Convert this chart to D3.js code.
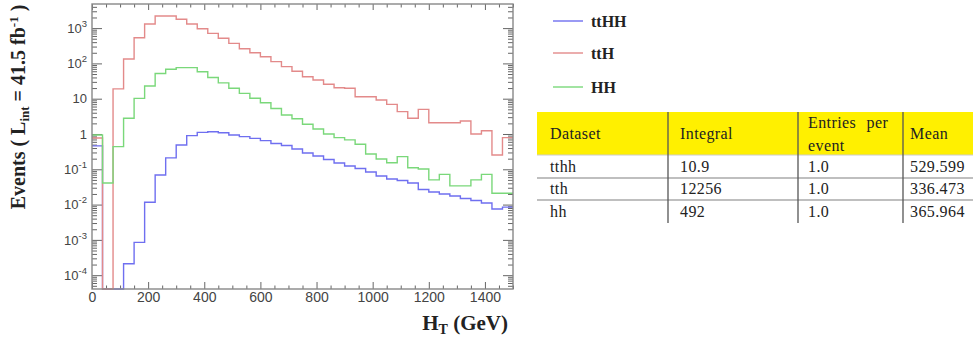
<!DOCTYPE html>
<html><head><meta charset="utf-8">
<script src="https://cdn.jsdelivr.net/npm/d3@7"></script>
<style>body{margin:0;background:#fff}svg{display:block}.tbl{font-family:'Liberation Serif','Times New Roman',serif;font-size:16px;fill:#222;letter-spacing:0.4px}</style>
</head><body>
<svg id="c" width="973" height="341"></svg>
<script>
// ---- data ----
const binEdges = [0,37.5,75,112.5,150,187.5,225,262.5,300,337.5,375,412.5,450,487.5,525,562.5,600,637.5,675,712.5,750,
  787.5,825,862.5,900,937.5,975,1012.5,1050,1087.5,1125,1162.5,1200,1237.5,1275,1312.5,1350,1387.5,1425,1462.5,1500];
const ttHH = [0.46,0,0,2.1e-4,8.5e-4,0.0116,0.069,0.21,0.49,0.9,1.11,1.16,1.09,0.94,0.84,0.75,0.65,0.54,0.47,0.376,
  0.29,0.238,0.19,0.151,0.124,0.105,0.084,0.0646,0.0531,0.0482,0.041,0.0268,0.0228,0.02,0.0175,0.0149,0.0131,0.0111,0.0075,0.0085];
const ttH = [0.77,0,19,133,535,1306,2200,2200,1780,1306,960,710,516,370,260,200,155,112,81,60,
  42,34,25.6,20.5,19.7,11.4,11.4,9.2,6.9,4.3,2.8,5.0,2.09,2.09,2.09,2.33,1.0,1.24,0.254,0.79];
const HH = [0.94,0.041,0.44,2.8,10.2,22.9,52,68,76,76,58,40,28,19.7,14.2,10.3,7.7,5.3,3.45,2.7,
  1.88,1.38,1.0,0.79,0.68,0.51,0.27,0.195,0.154,0.228,0.111,0.102,0.05,0.072,0.034,0.034,0.05,0.072,0.021,0.021];
const seriesNames = ["ttHH","ttH","HH"];
const seriesColors = ["#6f6ff0","#e38a8a","#7ad87a"];
const xTickValues = [0,200,400,600,800,1000,1200,1400];
const yTickValues = [1e-4,1e-3,1e-2,1e-1,1,10,100,1000];
const yTickBase = ["10","10","10","10","1","10","10","10"];
const yTickExp = ["-4","-3","-2","-1","","","2","3"];
const tableHeader = ["Dataset","Integral","Entries per|event","Mean"];
const tableDataset = ["tthh","tth","hh"];
const tableIntegral = ["10.9","12256","492"];
const tableEntries = ["1.0","1.0","1.0"];
const tableMean = ["529.599","336.473","365.964"];

// ---- layout ----
const svg = d3.select("#c");
svg.append("rect").attr("width",973).attr("height",341).attr("fill","#fff");
const L=92, R=513, T=4, B=289;
const x = d3.scaleLinear().domain([0,1500]).range([L,R]);
const yMin = 4.06e-5, yMax = 4820;
const y = d3.scaleLog().domain([yMin,yMax]).range([B,T]).clamp(true);
const tickCol = "#666";

const yMinor = [];
for (let d=-5; d<=3; d++) for (let k=2;k<=9;k++){ const v=k*Math.pow(10,d); if(v>=yMin && v<=yMax) yMinor.push(v); }
const xMinor = d3.range(0,1501,50).filter(v=>v%200!==0);

function styleAxis(g){ g.select(".domain").remove(); g.selectAll("line").attr("stroke",tickCol).attr("stroke-width",1); }

svg.append("g").attr("transform",`translate(${L},0)`).call(d3.axisLeft(y).tickValues(yMinor).tickSize(-5).tickFormat("")).call(styleAxis);
const yl = svg.append("g").attr("transform",`translate(${L},0)`)
  .call(d3.axisLeft(y).tickValues(yTickValues).tickSize(-10).tickPadding(5).tickFormat((d,i)=>i)).call(styleAxis);
yl.selectAll("text").each(function(d,i){
  const t = d3.select(this); t.text(null)
    .attr("font-family","'Liberation Sans',Arial,sans-serif").attr("font-size",13).attr("fill","#444");
  t.append("tspan").text(yTickBase[i]);
  if (yTickExp[i]) t.append("tspan").attr("dy",-6).attr("font-size",9.5).text(yTickExp[i]);
});
svg.append("g").attr("transform",`translate(${R},0)`).call(d3.axisRight(y).tickValues(yMinor).tickSize(-5).tickFormat("")).call(styleAxis);
svg.append("g").attr("transform",`translate(${R},0)`).call(d3.axisRight(y).tickValues(yTickValues).tickSize(-10).tickFormat("")).call(styleAxis);
svg.append("g").attr("transform",`translate(0,${B})`).call(d3.axisBottom(x).tickValues(xMinor).tickSize(-3.5).tickFormat("")).call(styleAxis);
const xl = svg.append("g").attr("transform",`translate(0,${B})`)
  .call(d3.axisBottom(x).tickValues(xTickValues).tickSize(-7).tickPadding(3).tickFormat(d3.format("d"))).call(styleAxis);
xl.selectAll("text").attr("font-family","'Liberation Sans',Arial,sans-serif").attr("font-size",14).attr("fill","#444");
svg.append("g").attr("transform",`translate(0,${T})`).call(d3.axisTop(x).tickValues(xMinor).tickSize(-3.5).tickFormat("")).call(styleAxis);
svg.append("g").attr("transform",`translate(0,${T})`).call(d3.axisTop(x).tickValues(xTickValues).tickSize(-6).tickFormat("")).call(styleAxis);

const line = d3.line().curve(d3.curveStepAfter).x(d=>x(d[0])).y(d=>y(Math.max(d[1],yMin)));
[ttHH,ttH,HH].forEach((vals,si)=>{
  const pts = vals.map((v,i)=>[binEdges[i],v]); pts.push([binEdges[vals.length], vals[vals.length-1]]);
  svg.append("path").attr("d",line(pts)).attr("fill","none").attr("stroke",seriesColors[si]).attr("stroke-width",1.4);
});

svg.append("rect").attr("x",L).attr("y",T).attr("width",R-L).attr("height",B-T)
  .attr("fill","none").attr("stroke","#888").attr("stroke-width",1.4);

const serif = "'Liberation Serif','Times New Roman',serif";
const xt = svg.append("text").attr("x",508).attr("y",330).attr("text-anchor","end")
  .attr("font-family",serif).attr("font-weight","bold").attr("font-size",21).attr("fill","#222");
xt.append("tspan").text("H");
xt.append("tspan").attr("dy",4).attr("font-size",14).text("T");
xt.append("tspan").attr("dy",-4).text(" (GeV)");

const yt = svg.append("text").attr("transform","translate(25,107) rotate(-90)").attr("text-anchor","middle")
  .attr("font-family",serif).attr("font-weight","bold").attr("font-size",20).attr("fill","#222");
yt.append("tspan").text("Events  ( L");
yt.append("tspan").attr("dy",4).attr("font-size",13).text("int");
yt.append("tspan").attr("dy",-4).text(" = 41.5 fb");
yt.append("tspan").attr("dy",-7).attr("font-size",13).text("-1");
yt.append("tspan").attr("dy",7).text(" )");

const legY = [21,53,87];
seriesNames.forEach((n,i)=>{
  svg.append("line").attr("x1",553).attr("x2",583).attr("y1",legY[i]).attr("y2",legY[i])
    .attr("stroke",seriesColors[i]).attr("stroke-width",1.4);
  svg.append("text").attr("x",591).attr("y",legY[i]).attr("dy","0.35em")
    .attr("font-family",serif).attr("font-weight","bold").attr("font-size",16).attr("fill","#222").text(n);
});

const colX = [537,668,798,903];
const colText = [550,680,808,910];
const tTop = 112, hdrBot = 155, rowBots = [178,200,223];
svg.append("rect").attr("x",colX[0]).attr("y",tTop).attr("width",973-colX[0]).attr("height",hdrBot-tTop).attr("fill","#fff000");
function tx(xp,yp,s){ return svg.append("text").attr("class","tbl").attr("x",xp).attr("y",yp).attr("dy","0.35em").text(s); }
tableHeader.forEach((h,i)=>{
  const parts = h.split("|");
  if (parts.length===1) tx(colText[i],133,parts[0]);
  else { tx(colText[i],122,parts[0]).attr("word-spacing",6); tx(colText[i],145,parts[1]); }
});
const rowMid = [166,188,211];
const cols = [tableDataset,tableIntegral,tableEntries,tableMean];
tableDataset.forEach((_,r)=>{ cols.forEach((c,ci)=>tx(colText[ci],rowMid[r],c[r])); });
[rowBots[0],rowBots[1]].forEach(yy=>svg.append("line").attr("x1",colX[0]).attr("x2",973).attr("y1",yy).attr("y2",yy).attr("stroke","#aaa").attr("stroke-width",1.5));
svg.append("line").attr("x1",colX[0]).attr("x2",973).attr("y1",hdrBot).attr("y2",hdrBot).attr("stroke","#ccc").attr("stroke-width",1);
colX.slice(1).forEach(xx=>svg.append("line").attr("x1",xx).attr("x2",xx).attr("y1",tTop).attr("y2",rowBots[2]).attr("stroke","#555").attr("stroke-width",1.3));
</script>
</body></html>
